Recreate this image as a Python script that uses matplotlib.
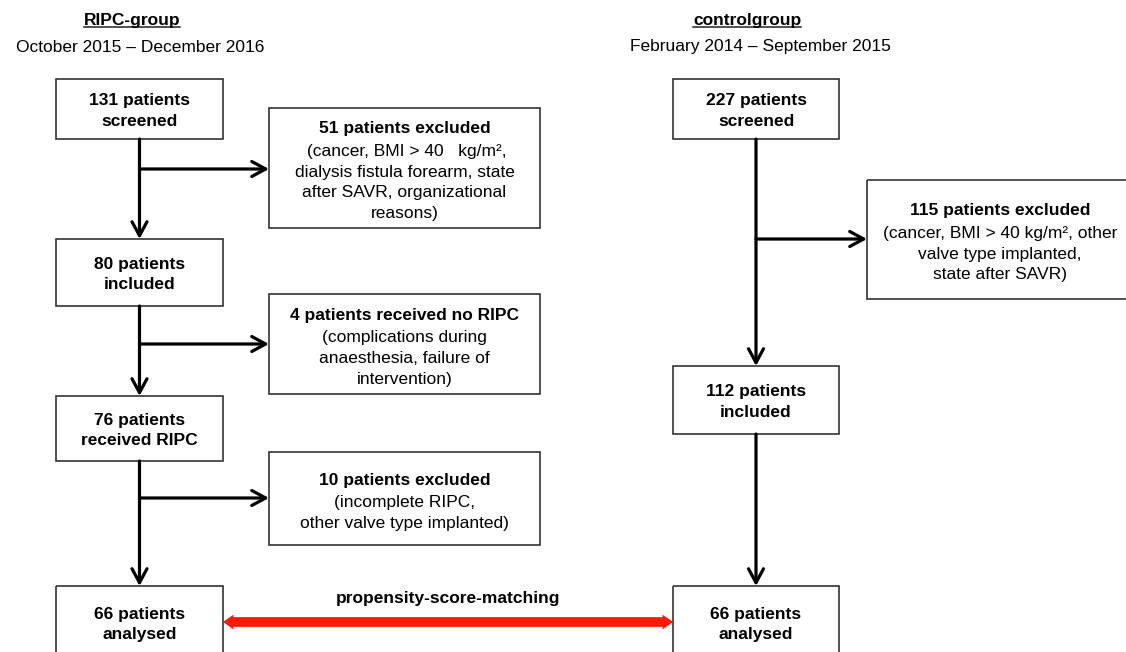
import matplotlib.pyplot as plt
from matplotlib.patches import Rectangle, FancyArrowPatch

plt.rcParams['font.family'] = ['Liberation Sans', 'DejaVu Sans']

# Texte des Flussdiagramms
group_titles = ['RIPC-group', 'controlgroup']
group_periods = ['October 2015 – December 2016', 'February 2014 – September 2015']

ripc_steps = ['131 patients\nscreened', '80 patients\nincluded',
              '76 patients\nreceived RIPC', '66 patients\nanalysed']
ripc_excl_titles = ['51 patients excluded', '4 patients received no RIPC',
                    '10 patients excluded']
ripc_excl_reasons = [' (cancer, BMI > 40   kg/m²,\ndialysis fistula forearm, state\nafter SAVR, organizational\nreasons)',
                     '(complications during\nanaesthesia, failure of\nintervention)',
                     '(incomplete RIPC,\nother valve type implanted)']

ctrl_steps = ['227 patients\nscreened', '112 patients\nincluded', '66 patients\nanalysed']
ctrl_excl_titles = ['115 patients excluded']
ctrl_excl_reasons = ['(cancer, BMI > 40 kg/m², other\nvalve type implanted,\nstate after SAVR)']

matching_label = 'propensity-score-matching'

# Layout (Pixelkoordinaten)
ripc_x = (56, 223)
ripc_y = [(79, 139), (239, 306), (396, 461), (586, 660)]
ripc_excl_x = (269, 540)
ripc_excl_y = [(108, 228), (294, 394), (452, 545)]
ripc_arrow_y = [169, 344, 498]

ctrl_x = (673, 839)
ctrl_y = [(79, 139), (366, 434), (586, 660)]
ctrl_excl_x = (867, 1133)
ctrl_excl_y = [(180, 299)]
ctrl_arrow_y = [239]

fs = 12.5
line_px = 21
lsp = 1.48
edge = '#333333'

fig = plt.figure(figsize=(11.26, 6.52), dpi=100)
ax = fig.add_axes([0, 0, 1, 1])
ax.set_xlim(0, 1126)
ax.set_ylim(652, 0)
ax.axis('off')


def box(x, y):
    ax.add_patch(Rectangle((x[0], y[0]), x[1] - x[0], y[1] - y[0],
                           fill=False, ec=edge, lw=1.2))


def arrow(p0, p1):
    ax.add_patch(FancyArrowPatch(p0, p1, arrowstyle='->,head_length=0.5,head_width=0.27',
                                 mutation_scale=20, lw=2.3, color='black',
                                 shrinkA=0, shrinkB=0))


def column(xs, ys, steps, excl_x, excl_y, arrow_y, excl_titles, excl_reasons):
    cx = (xs[0] + xs[1]) / 2
    for (y0, y1), txt in zip(ys, steps):
        box(xs, (y0, y1))
        ax.text(cx, (y0 + min(y1, 659)) / 2 + 2, txt, ha='center', va='center',
                fontsize=fs, fontweight='bold', linespacing=lsp)
    for (a, b) in zip(ys[:-1], ys[1:]):
        arrow((cx, a[1]), (cx, b[0]))
    ex = (excl_x[0] + excl_x[1]) / 2
    for ey, ay, t, r in zip(excl_y, arrow_y, excl_titles, excl_reasons):
        box(excl_x, ey)
        arrow((cx, ay), (excl_x[0], ay))
        n = r.count('\n') + 1
        ty = (ey[0] + ey[1]) / 2 - line_px * n / 2 + 3
        ax.text(ex, ty, t, ha='center', va='center', fontsize=fs, fontweight='bold')
        ax.text(ex, ty + line_px * (n + 1) / 2 + 1, r, ha='center', va='center',
                fontsize=fs, linespacing=lsp)
    return cx


lx = column(ripc_x, ripc_y, ripc_steps, ripc_excl_x, ripc_excl_y, ripc_arrow_y,
            ripc_excl_titles, ripc_excl_reasons)
rx = column(ctrl_x, ctrl_y, ctrl_steps, ctrl_excl_x, ctrl_excl_y, ctrl_arrow_y,
            ctrl_excl_titles, ctrl_excl_reasons)

# Gruppenüberschriften
titles = []
for x, t in zip([132, 747], group_titles):
    titles.append(ax.text(x, 20, t, ha='center', va='center', fontsize=fs, fontweight='bold'))
for x, p in zip([140, 760], group_periods):
    ax.text(x, 47, p, ha='center', va='center', fontsize=fs)

fig.canvas.draw()
inv = ax.transData.inverted()
for t in titles:
    bb = t.get_window_extent()
    (x0, yb), (x1, _) = inv.transform([(bb.x0, bb.y0), (bb.x1, bb.y1)])
    ax.plot([x0, x1], [yb - 1, yb - 1], color='#222222', lw=1.1)

# Propensity-score-matching Doppelpfeil
mid = (ripc_x[1] + ctrl_x[0]) / 2
for end in (ripc_x[1], ctrl_x[0]):
    ax.add_patch(FancyArrowPatch((mid, 622), (end, 622),
                                 arrowstyle='simple,head_length=7.5,head_width=10.5,tail_width=7',
                                 mutation_scale=1, color='#ff1a00', lw=0,
                                 shrinkA=0, shrinkB=0))
ax.text(mid, 598, matching_label, ha='center', va='center', fontsize=fs, fontweight='bold')

fig.savefig('out.png', dpi=100)
